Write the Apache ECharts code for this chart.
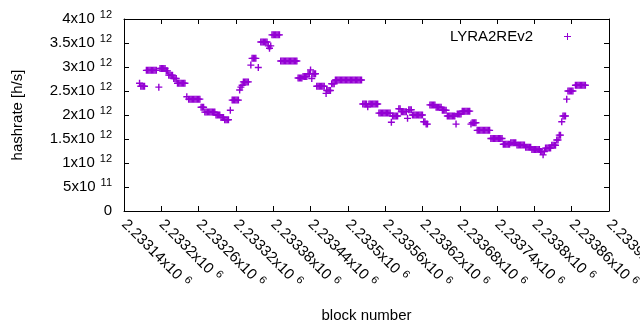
<!DOCTYPE html>
<html>
<head>
<meta charset="utf-8">
<title>LYRA2REv2 hashrate</title>
<script src="https://cdn.jsdelivr.net/npm/echarts@6.0.0/dist/echarts.min.js"></script>
<style>
  html, body { margin: 0; padding: 0; background: #fff; }
  #chart { width: 640px; height: 330px; }
</style>
</head>
<body>
<div id="chart"></div>
<script>
// block numbers are stored as offsets from the first x tick
var BLOCK_BASE = 2233140;
var blockOffset = [
    25,
    27, 29, 31, 33,
    36, 38, 40, 42, 44, 46, 48, 50, 52,
    56,
    58, 60, 62, 64, 66,
    68, 70,
    72, 74, 76, 78,
    80, 82, 84,
    86, 88, 90, 92, 94, 96, 98,
    101,
    104, 106, 108, 110, 112, 114, 116, 118, 120, 122,
    124, 126, 128,
    130, 132, 134, 136, 138, 140, 142, 144, 146,
    148, 150, 152, 154,
    156, 158, 160,
    162, 164, 166, 168,
    171,
    174, 176, 178, 180, 182, 184,
    186, 188, 190,
    192, 194, 196, 198, 200,
    204,
    206, 208, 210, 212,
    216,
    220, 222, 224, 226, 228, 230,
    232, 234, 236,
    238, 240, 242, 244, 246, 248, 250,
    252, 254, 256, 258, 260, 262, 264, 266, 268, 270, 272, 274, 276, 278,
    280, 282, 284, 286,
    288, 290, 292, 294,
    296, 298, 300, 302, 304, 306, 308,
    310, 312, 314, 316, 318, 320, 322,
    325,
    326, 328, 330, 332,
    334, 336, 338,
    340, 342, 344, 346, 348, 350, 352, 354, 356, 358, 360, 362, 364, 366, 368, 370, 372, 374, 376, 378, 380, 382,
    384, 386, 388, 390, 392, 394, 396, 398, 400, 402, 404, 406, 408,
    410, 412, 414, 416, 418, 420, 422, 424, 426, 428,
    430,
    432, 434, 436, 438, 440,
    442, 444,
    446, 448, 450, 452, 454, 456,
    458, 460, 462,
    464, 466, 468, 470, 472, 474, 476, 478, 480,
    482, 484, 486, 488,
    492, 494, 496, 498, 500,
    502, 504, 506, 508, 510,
    512, 514, 516, 518,
    520, 522, 524, 526, 528, 530, 532,
    534,
    536, 538, 540, 542,
    544, 546, 548, 550, 552, 554, 556,
    558, 560, 562, 564, 566,
    568, 570, 572, 574, 576, 578, 580, 582, 584, 586, 588,
    590, 592, 594, 596, 598, 600, 602, 604, 606, 608,
    610, 612, 614, 616, 618, 620,
    622, 624, 626, 628, 630,
    632, 634, 636, 638, 640, 642, 644,
    646, 648, 650, 652, 654,
    656, 658, 660, 662, 664, 666, 668,
    670, 672, 674, 676,
    678, 680, 682, 684, 686,
    688, 690, 692, 694,
    696, 698,
    700, 702,
    704,
    706, 708, 710,
    712,
    714, 716, 718, 720, 722,
    726, 728, 730, 732, 734, 736, 738, 740, 742
];
// hashrate in units of 10^12 h/s, same line layout as blockOffset
var hashrateT = [
    2.66,
    2.60, 2.60, 2.60, 2.60,
    2.93, 2.93, 2.93, 2.93, 2.93, 2.93, 2.93, 2.93, 2.93,
    2.58,
    2.97, 2.97, 2.97, 2.97, 2.97,
    2.92, 2.92,
    2.83, 2.83, 2.83, 2.83,
    2.76, 2.76, 2.76,
    2.66, 2.66, 2.66, 2.66, 2.66, 2.66, 2.66,
    2.38,
    2.33, 2.33, 2.33, 2.33, 2.33, 2.33, 2.33, 2.33, 2.33, 2.33,
    2.16, 2.16, 2.16,
    2.06, 2.06, 2.06, 2.06, 2.06, 2.06, 2.06, 2.06, 2.06,
    2.00, 2.00, 2.00, 2.00,
    1.95, 1.95, 1.95,
    1.90, 1.90, 1.90, 1.90,
    2.10,
    2.31, 2.31, 2.31, 2.31, 2.31, 2.31,
    2.52, 2.58, 2.62,
    2.69, 2.69, 2.69, 2.69, 2.69,
    3.04,
    3.18, 3.18, 3.18, 3.18,
    2.99,
    3.52, 3.52, 3.52, 3.52, 3.52, 3.52,
    3.44, 3.39, 3.44,
    3.67, 3.67, 3.67, 3.67, 3.67, 3.67, 3.67,
    3.125, 3.125, 3.125, 3.125, 3.125, 3.125, 3.125, 3.125, 3.125, 3.125, 3.125, 3.125, 3.125, 3.125,
    2.77, 2.77, 2.77, 2.77,
    2.80, 2.80, 2.80, 2.80,
    2.86, 2.86, 2.94, 2.76, 2.86, 2.86, 2.86,
    2.60, 2.60, 2.60, 2.60, 2.60, 2.60, 2.60,
    2.45,
    2.51, 2.51, 2.51, 2.51,
    2.65, 2.65, 2.65,
    2.73, 2.73, 2.73, 2.73, 2.73, 2.73, 2.73, 2.73, 2.73, 2.73, 2.73, 2.73, 2.73, 2.73, 2.73, 2.73, 2.73, 2.73, 2.73, 2.73, 2.73, 2.73,
    2.23, 2.23, 2.23, 2.23, 2.17, 2.23, 2.23, 2.23, 2.23, 2.23, 2.23, 2.23, 2.23,
    2.04, 2.04, 2.04, 2.04, 2.04, 2.04, 2.04, 2.04, 2.04, 2.04,
    1.85,
    1.98, 1.98, 1.98, 1.98, 1.98,
    2.13, 2.13,
    2.07, 2.07, 2.07, 2.07, 2.07, 1.93,
    2.11, 2.11, 2.11,
    2.00, 2.00, 2.00, 2.00, 2.00, 2.00, 2.00, 2.00, 2.00,
    1.86, 1.86, 1.81, 1.81,
    2.21, 2.21, 2.21, 2.21, 2.21,
    2.16, 2.16, 2.16, 2.16, 2.16,
    2.10, 2.10, 2.10, 2.10,
    1.98, 1.98, 1.98, 1.98, 1.98, 1.98, 1.98,
    1.81,
    2.02, 2.02, 2.02, 2.02,
    2.08, 2.08, 2.08, 2.08, 2.08, 2.08, 2.08,
    1.81, 1.84, 1.84, 1.84, 1.84,
    1.68, 1.68, 1.68, 1.68, 1.68, 1.68, 1.68, 1.68, 1.68, 1.68, 1.68,
    1.51, 1.51, 1.51, 1.51, 1.51, 1.51, 1.51, 1.51, 1.51, 1.51,
    1.39, 1.39, 1.39, 1.39, 1.39, 1.39,
    1.42, 1.42, 1.42, 1.42, 1.42,
    1.375, 1.375, 1.375, 1.375, 1.375, 1.375, 1.375,
    1.33, 1.33, 1.33, 1.33, 1.33,
    1.28, 1.28, 1.28, 1.28, 1.28, 1.28, 1.28,
    1.24, 1.24, 1.17, 1.24,
    1.31, 1.31, 1.31, 1.31, 1.31,
    1.37, 1.37, 1.37, 1.37,
    1.48, 1.48,
    1.58, 1.58,
    1.86,
    1.98, 1.98, 1.98,
    2.33,
    2.50, 2.50, 2.50, 2.50, 2.50,
    2.62, 2.62, 2.62, 2.62, 2.62, 2.62, 2.62, 2.62, 2.62
];
var seriesName = 'LYRA2REv2';
var xMin = 2233140, xMax = 2233920, xStep = 60;
var yMin = 0, yMax = 4e12, yStep = 5e11;

var FONT = '"Liberation Sans", Arial, sans-serif';
// "+" marker, slightly thick bars so runs of points read as solid blocks
var plusPath = 'path://M0,2.8H7V4.2H0Z M2.8,0H4.2V7H2.8Z';

var points = [];
for (var i = 0; i < blockOffset.length; i++) {
    points.push([BLOCK_BASE + blockOffset[i], hashrateT[i] * 1e12]);
}

// 2.5x10^12 style labels
function sciLabel(v) {
    if (v === 0) return '{b|0}';
    var e = Math.floor(Math.log10(v) + 1e-9);
    var m = parseFloat((v / Math.pow(10, e)).toFixed(6));
    return '{b|' + m + 'x10}{s|' + e + '}';
}
var sciRich = {
    b: { fontSize: 15, fontFamily: FONT, color: '#000' },
    s: { fontSize: 11, fontFamily: FONT, color: '#000', padding: [0, 0, 8, 5] }
};

var myChart = echarts.init(document.getElementById('chart'), null, { renderer: 'canvas' });
var option = {
    animation: false,
    backgroundColor: '#fff',
    grid: {
        left: 124, right: 31, top: 19, bottom: 119,
        containLabel: false,
        outerBoundsMode: 'none'
    },
    legend: {
        data: [{ name: seriesName, icon: 'path://M0,3H7V4H0Z M3,0H4V7H3Z' }],
        right: 64,
        top: 24,
        align: 'right',
        itemWidth: 7,
        itemHeight: 7,
        selectedMode: false,
        textStyle: { fontSize: 15, fontFamily: FONT, color: '#000', padding: [0, 26, 0, 0] }
    },
    xAxis: [
        {
            type: 'value',
            min: xMin, max: xMax, interval: xStep,
            position: 'bottom',
            name: 'block number',
            nameLocation: 'middle',
            nameGap: 97,
            nameTextStyle: { fontSize: 15, fontFamily: FONT, color: '#000' },
            axisLine: { show: true, onZero: false, lineStyle: { color: '#000', width: 1 } },
            axisTick: { show: true, inside: true, length: 5, lineStyle: { color: '#000' } },
            splitLine: { show: false },
            axisLabel: { rotate: -45, margin: 11, formatter: sciLabel, rich: sciRich }
        },
        {
            type: 'value',
            min: xMin, max: xMax, interval: xStep,
            position: 'top',
            axisLine: { show: true, onZero: false, lineStyle: { color: '#000', width: 1 } },
            axisTick: { show: true, inside: true, length: 5, lineStyle: { color: '#000' } },
            splitLine: { show: false },
            axisLabel: { show: false }
        }
    ],
    yAxis: [
        {
            type: 'value',
            min: yMin, max: yMax, interval: yStep,
            position: 'left',
            name: 'hashrate [h/s]',
            nameLocation: 'middle',
            nameGap: 99,
            nameTextStyle: { fontSize: 15, fontFamily: FONT, color: '#000' },
            axisLine: { show: true, onZero: false, lineStyle: { color: '#000', width: 1 } },
            axisTick: { show: true, inside: true, length: 5, lineStyle: { color: '#000' } },
            splitLine: { show: false },
            axisLabel: { margin: 12, formatter: sciLabel, rich: sciRich }
        },
        {
            type: 'value',
            min: yMin, max: yMax, interval: yStep,
            position: 'right',
            axisLine: { show: true, onZero: false, lineStyle: { color: '#000', width: 1 } },
            axisTick: { show: true, inside: true, length: 5, lineStyle: { color: '#000' } },
            splitLine: { show: false },
            axisLabel: { show: false }
        }
    ],
    series: [
        {
            name: seriesName,
            type: 'scatter',
            xAxisIndex: 0,
            yAxisIndex: 0,
            symbol: plusPath,
            symbolSize: 7,
            itemStyle: { color: '#9400d3', opacity: 1 },
            data: points
        }
    ]
};
myChart.setOption(option);
</script>
</body>
</html>
